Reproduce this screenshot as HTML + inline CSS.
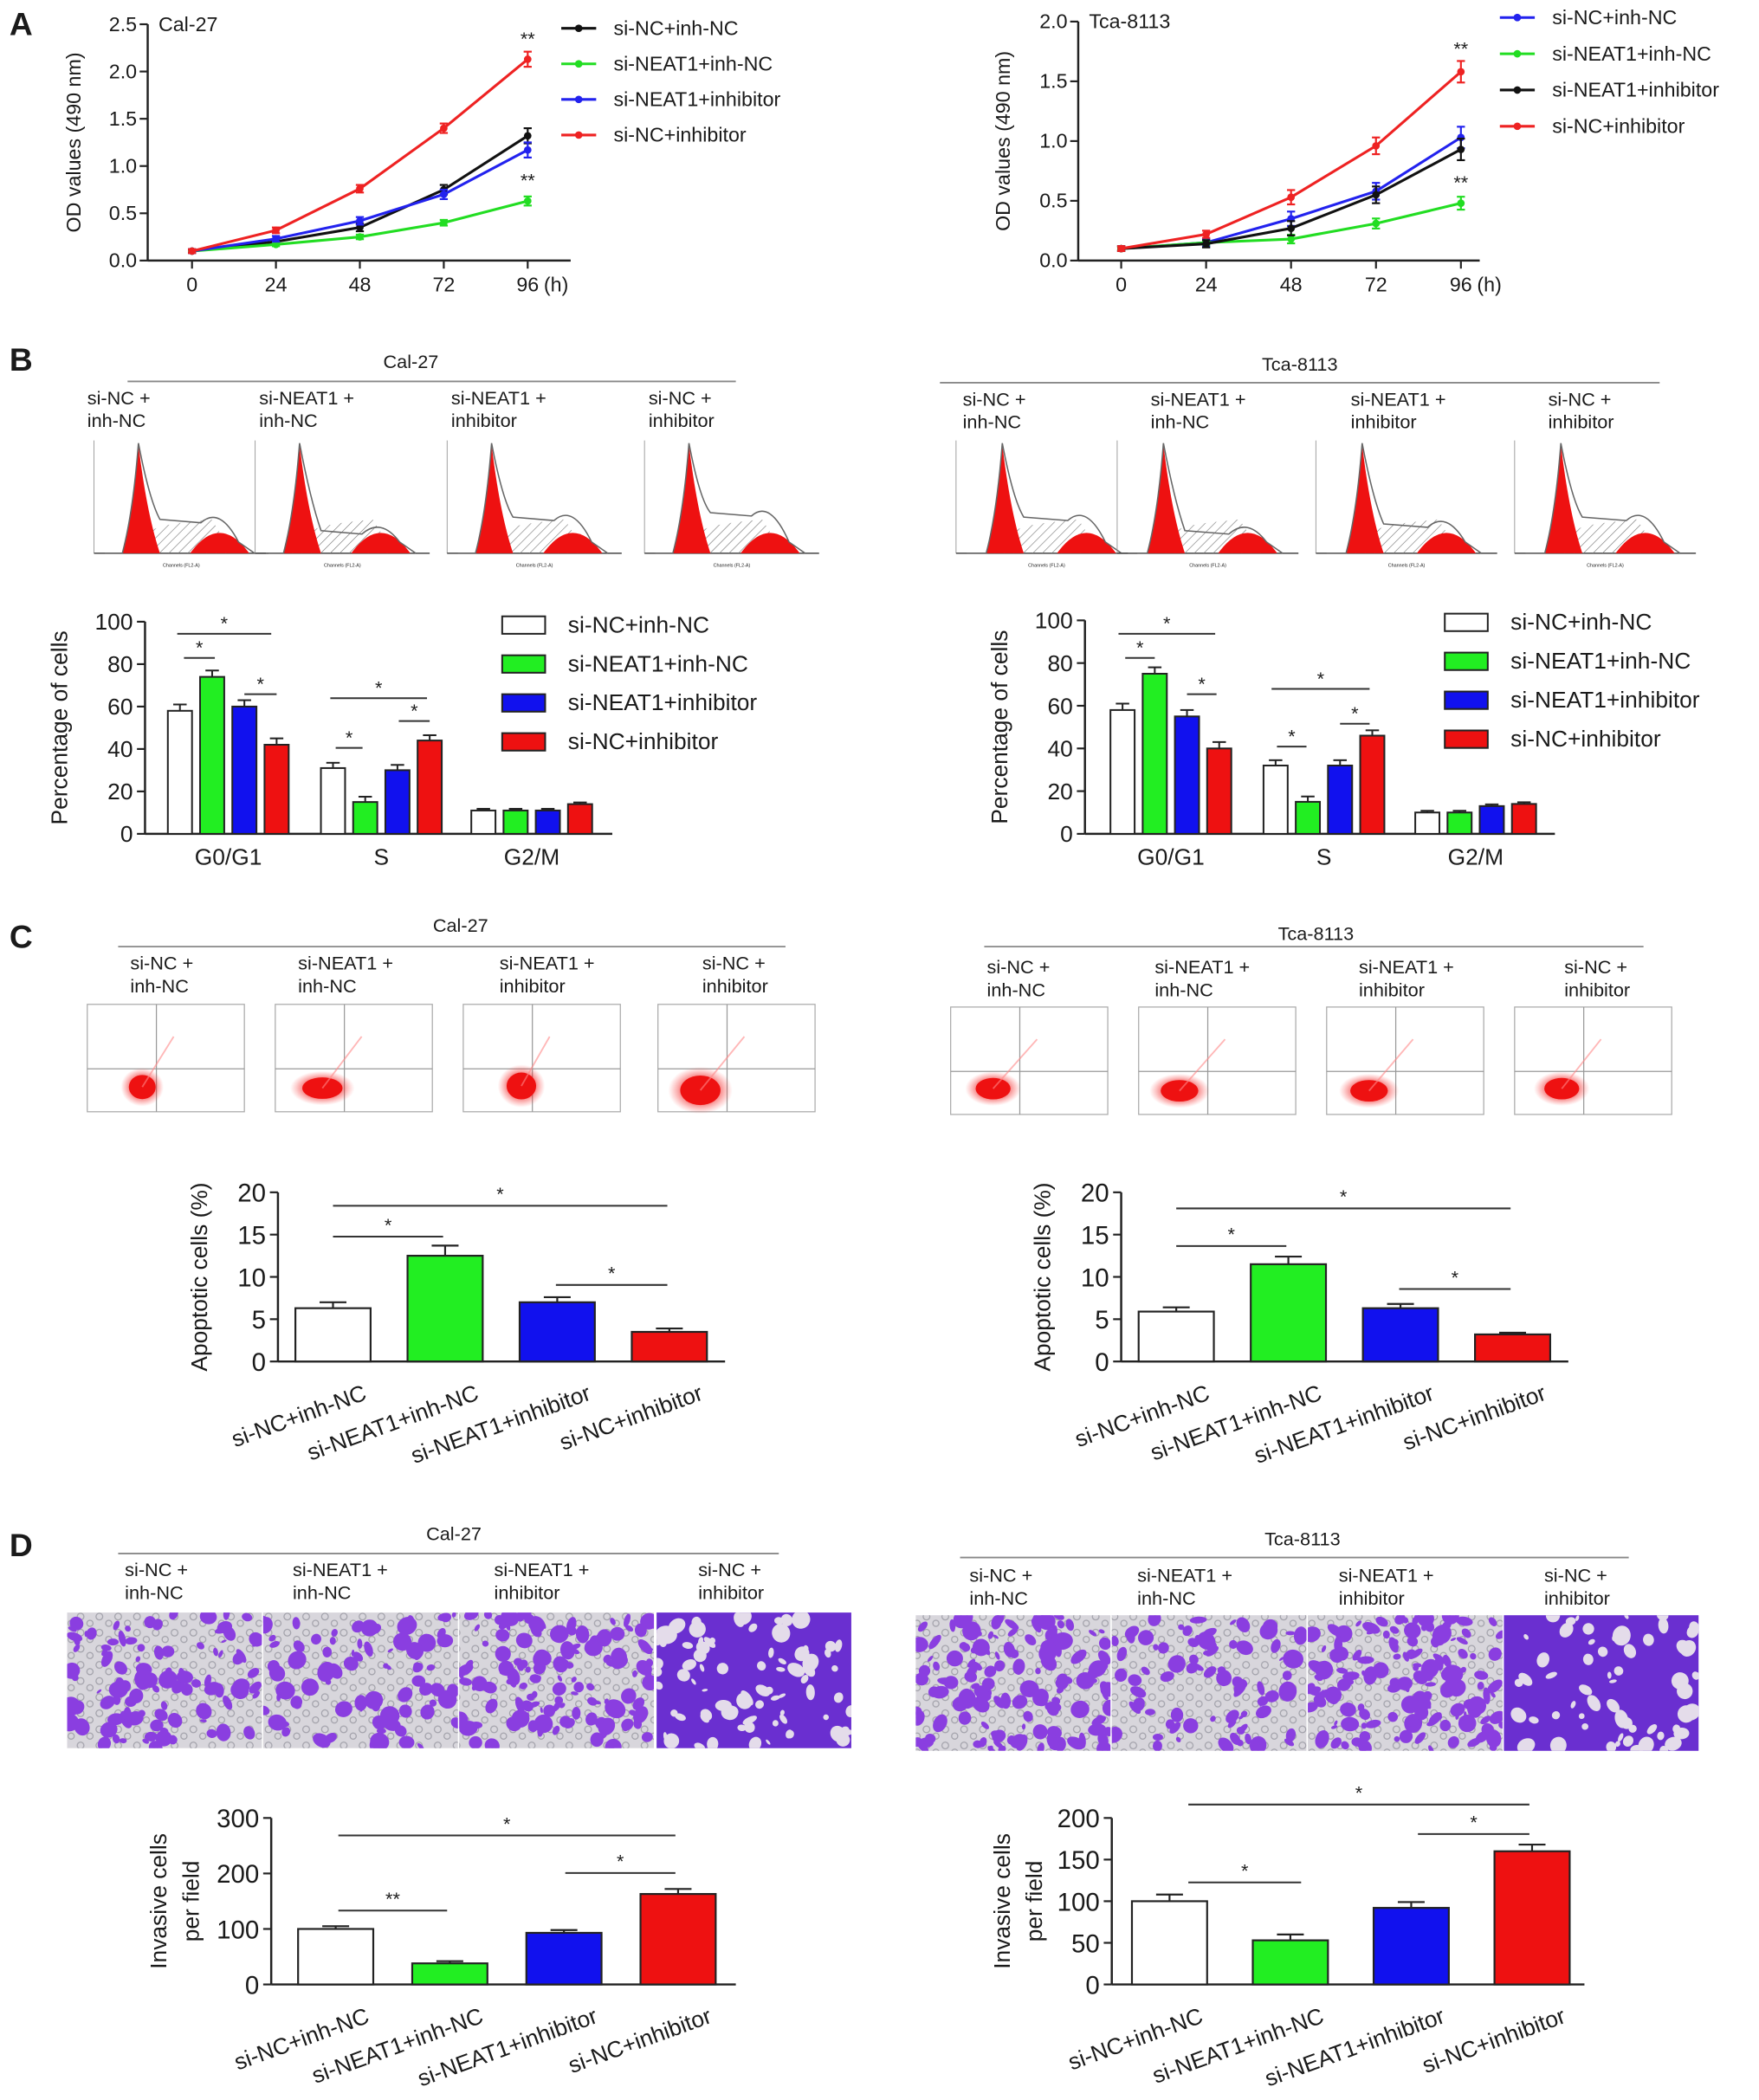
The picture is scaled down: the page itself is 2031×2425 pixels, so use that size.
<!DOCTYPE html>
<html><head><meta charset="utf-8"><style>
html,body{margin:0;padding:0;background:#fff}
svg{display:block}
text{font-family:"Liberation Sans",sans-serif;fill:#1a1a1a}
</style></head><body>
<svg id="fig" xmlns="http://www.w3.org/2000/svg" width="2031" height="2425" viewBox="0 0 1310 1564">
<defs>
<pattern id="hatch" width="5" height="5" patternUnits="userSpaceOnUse" patternTransform="rotate(45)"><line x1="0" y1="0" x2="0" y2="5" stroke="#777" stroke-width="0.8"/></pattern>
<radialGradient id="blob"><stop offset="0" stop-color="#e00000"/><stop offset="0.6" stop-color="#ee1010"/><stop offset="1" stop-color="#ff4040" stop-opacity="0"/></radialGradient>
<pattern id="cells" width="14" height="12" patternUnits="userSpaceOnUse"><circle cx="4" cy="4" r="2.5" fill="none" stroke="#8a8a94" stroke-width="0.8"/><circle cx="11" cy="9" r="2.3" fill="none" stroke="#8a8a94" stroke-width="0.8"/></pattern>
</defs>
</svg>
<script>
// ===== Panel A data =====
const hours = [0, 24, 48, 72, 96];
const aLeftNames = ['si-NC+inh-NC', 'si-NEAT1+inh-NC', 'si-NEAT1+inhibitor', 'si-NC+inhibitor'];
const aLeftBlack = [0.10, 0.20, 0.35, 0.75, 1.32];
const aLeftGreen = [0.10, 0.17, 0.25, 0.40, 0.63];
const aLeftBlue = [0.10, 0.23, 0.42, 0.70, 1.17];
const aLeftRed = [0.10, 0.32, 0.76, 1.40, 2.13];
const aLeftErr = [0.02, 0.03, 0.04, 0.05, 0.08];
const aRightNames = ['si-NC+inh-NC', 'si-NEAT1+inh-NC', 'si-NEAT1+inhibitor', 'si-NC+inhibitor'];
const aRightBlue = [0.10, 0.15, 0.35, 0.58, 1.03];
const aRightGreen = [0.10, 0.15, 0.18, 0.31, 0.48];
const aRightBlack = [0.10, 0.14, 0.27, 0.55, 0.93];
const aRightRed = [0.10, 0.22, 0.53, 0.96, 1.58];
const aRightErr = [0.02, 0.03, 0.06, 0.07, 0.09];
const aYTicksLeft = ['0.0', '0.5', '1.0', '1.5', '2.0', '2.5'];
const aYTicksRight = ['0.0', '0.5', '1.0', '1.5', '2.0'];
// ===== Panel B data =====
const phases = ['G0/G1', 'S', 'G2/M'];
const bLeftWhite = [58, 31, 11];
const bLeftGreen = [74, 15, 11];
const bLeftBlue = [60, 30, 11];
const bLeftRed = [42, 44, 14];
const bRightWhite = [58, 32, 10];
const bRightGreen = [75, 15, 10];
const bRightBlue = [55, 32, 13];
const bRightRed = [40, 46, 14];
const bErr = [3, 2.5, 0.8];
const bYTicks = [0, 20, 40, 60, 80, 100];
// ===== Panel C data =====
const groups = ['si-NC+inh-NC', 'si-NEAT1+inh-NC', 'si-NEAT1+inhibitor', 'si-NC+inhibitor'];
const cLeftVals = [6.3, 12.5, 7.0, 3.5];
const cLeftErr = [0.7, 1.2, 0.6, 0.4];
const cRightVals = [5.9, 11.5, 6.3, 3.2];
const cRightErr = [0.5, 0.9, 0.5, 0.2];
const cYTicks = [0, 5, 10, 15, 20];
// ===== Panel D data =====
const dLeftVals = [100, 38, 93, 163];
const dLeftErr = [5, 4, 5, 9];
const dRightVals = [100, 53, 92, 160];
const dRightErr = [8, 7, 7, 8];
const dYTicksLeft = [0, 100, 200, 300];
const dYTicksRight = [0, 50, 100, 150, 200];

const svg = document.getElementById('fig');
const NS = 'http://www.w3.org/2000/svg';
function mk(tag, attrs, parent) {
  const e = document.createElementNS(NS, tag);
  for (const k in attrs) e.setAttribute(k, attrs[k]);
  (parent || svg).appendChild(e);
  return e;
}
function txt(x, y, s, size, anchor, parent, extra) {
  const t = mk('text', Object.assign({x: x, y: y, 'font-size': size, 'text-anchor': anchor || 'start'}, extra || {}), parent);
  t.textContent = s;
  return t;
}
function grp(name) {
  const g = mk('g', {});
  
  
  return g;
}

['A', 'B', 'C', 'D'].forEach((L, i) => {
  const t = txt(7, [26, 276, 706, 1159][i], L, 24, 'start', null, {'font-weight': 'bold'});
  
  
});

function lineChart(name, cfg) {
  const g = grp(name);
  const yS = v => cfg.y0 - v / cfg.yMax * (cfg.y0 - cfg.yTop);
  const xS = h => cfg.x0 + h / 96 * (cfg.x96 - cfg.x0);
  mk('line', {x1: cfg.ax, y1: cfg.yTop, x2: cfg.ax, y2: cfg.y0, stroke: '#222', 'stroke-width': 1.6}, g);
  mk('line', {x1: cfg.ax, y1: cfg.y0, x2: cfg.xEnd, y2: cfg.y0, stroke: '#222', 'stroke-width': 1.6}, g);
  cfg.yTicks.forEach(t => {
    const y = yS(parseFloat(t));
    mk('line', {x1: cfg.ax - 6, y1: y, x2: cfg.ax, y2: y, stroke: '#222', 'stroke-width': 1.4}, g);
    txt(cfg.ax - 8, y + 5, t, 15, 'end', g);
  });
  hours.forEach(h => {
    const x = xS(h);
    mk('line', {x1: x, y1: cfg.y0, x2: x, y2: cfg.y0 + 6, stroke: '#222', 'stroke-width': 1.4}, g);
    txt(x, cfg.y0 + 23, String(h), 15, 'middle', g);
  });
  txt(xS(96) + 12, cfg.y0 + 23, '(h)', 15, 'start', g);
  const yt = txt(0, 0, 'OD values (490 nm)', 15, 'middle', g, {transform: 'translate(' + cfg.titleX + ',' + ((cfg.yTop + cfg.y0) / 2) + ') rotate(-90)'});
  
  txt(cfg.ax + 8, cfg.yTop + 5, cfg.cell, 15, 'start', g);
  cfg.series.forEach((s, si) => {
    const sg = mk('g', {}, g);
    
    
    const pts = s.vals.map((v, i) => xS(hours[i]) + ',' + yS(v)).join(' ');
    mk('polyline', {points: pts, fill: 'none', stroke: s.color, 'stroke-width': 2}, sg);
    s.vals.forEach((v, i) => {
      const x = xS(hours[i]), e = cfg.err[i] * (s.eScale || 1);
      mk('line', {x1: x, y1: yS(v - e), x2: x, y2: yS(v + e), stroke: s.color, 'stroke-width': 1.4}, sg);
      mk('line', {x1: x - 3, y1: yS(v + e), x2: x + 3, y2: yS(v + e), stroke: s.color, 'stroke-width': 1.4}, sg);
      mk('line', {x1: x - 3, y1: yS(v - e), x2: x + 3, y2: yS(v - e), stroke: s.color, 'stroke-width': 1.4}, sg);
      mk('circle', {cx: x, cy: yS(v), r: 2.8, fill: s.color}, sg);
    });
    const ly = cfg.legY + si * cfg.legGap;
    const lg = mk('g', {}, g);
    
    
    mk('line', {x1: cfg.legX, y1: ly, x2: cfg.legX + 26, y2: ly, stroke: s.color, 'stroke-width': 2}, lg);
    mk('circle', {cx: cfg.legX + 13, cy: ly, r: 2.8, fill: s.color}, lg);
    txt(cfg.legX + 39, ly + 5, s.label, 15, 'start', lg);
  });
  cfg.stars.forEach(st => {
    txt(xS(96), yS(st) , '**', 14, 'middle', g);
  });
}
lineChart('line-chart-cal27', {ax: 110, x0: 143, x96: 393, xEnd: 425, yTop: 18, y0: 194, yMax: 2.5, yTicks: aYTicksLeft,
  titleX: 60, cell: 'Cal-27', legX: 418, legY: 21, legGap: 26.5, err: aLeftErr, stars: [2.28, 0.78],
  series: [
    {key: 'black', label: aLeftNames[0], vals: aLeftBlack, color: '#111'},
    {key: 'green', label: aLeftNames[1], vals: aLeftGreen, color: '#22dd22', eScale: 0.6},
    {key: 'blue', label: aLeftNames[2], vals: aLeftBlue, color: '#2222ee'},
    {key: 'red', label: aLeftNames[3], vals: aLeftRed, color: '#ee2222'}]});
lineChart('line-chart-tca8113', {ax: 803, x0: 835, x96: 1088, xEnd: 1102, yTop: 16, y0: 194, yMax: 2.0, yTicks: aYTicksRight,
  titleX: 752, cell: 'Tca-8113', legX: 1117, legY: 13, legGap: 27, err: aRightErr, stars: [1.72, 0.60],
  series: [
    {key: 'blue', label: aRightNames[0], vals: aRightBlue, color: '#2222ee'},
    {key: 'green', label: aRightNames[1], vals: aRightGreen, color: '#22dd22', eScale: 0.6},
    {key: 'black', label: aRightNames[2], vals: aRightBlack, color: '#111'},
    {key: 'red', label: aRightNames[3], vals: aRightRed, color: '#ee2222'}]});

function header(name, cx, ty, l1, l2, lx, ly, labelXs, labY) {
  const g = grp(name);
  txt(cx, ty, name.indexOf('cal') >= 0 ? 'Cal-27' : 'Tca-8113', 14, 'middle', g);
  mk('line', {x1: l1, y1: ly, x2: l2, y2: ly, stroke: '#888', 'stroke-width': 1.2}, g);
  const tops = ['si-NC +', 'si-NEAT1 +', 'si-NEAT1 +', 'si-NC +'];
  const bots = ['inh-NC', 'inh-NC', 'inhibitor', 'inhibitor'];
  labelXs.forEach((x, i) => {
    txt(x, labY, tops[i], 14, 'start', g);
    txt(x, labY + 17, bots[i], 14, 'start', g);
  });
}
header('header-b-cal27', 306, 274, 95, 548, 0, 284, [65, 193, 336, 483], 301);
header('header-b-tca8113', 968, 276, 700, 1236, 0, 285, [717, 857, 1006, 1153], 302);
header('header-c-cal27', 343, 694, 88, 585, 0, 705, [97, 222, 372, 523], 722);
header('header-c-tca8113', 980, 700, 733, 1224, 0, 705, [735, 860, 1012, 1165], 725);
header('header-d-cal27', 338, 1147, 88, 580, 0, 1157, [93, 218, 368, 520], 1174);
header('header-d-tca8113', 970, 1151, 715, 1213, 0, 1160, [722, 847, 997, 1150], 1178);

function histo(x, y, w, h, s) {
  const g = grp('cell-cycle-histogram');
  const b = y + h;
  mk('line', {x1: x, y1: y, x2: x, y2: b, stroke: '#999', 'stroke-width': 0.6}, g);
  mk('line', {x1: x, y1: b, x2: x + w, y2: b, stroke: '#444', 'stroke-width': 1}, g);
  const p1 = x + w * 0.27, p2 = x + w * 0.72;
  mk('path', {d: `M${p1 - 10},${b} C${p1 + 4},${b - h * 0.25} ${p1 + 14},${b - h * 0.25} ${p2 - 6},${b - h * 0.3} L${p2 + 10},${b} Z`, fill: 'url(#hatch)'}, g);
  mk('path', {d: `M${p1 - 14},${b} Q${p1 - 6},${b - 30} ${p1 - 2},${y + 3} Q${p1 + 4},${b - 30} ${p1 + 14},${b} Z`, fill: '#ee1111'}, g);
  mk('path', {d: `M${p2 - 22},${b} Q${p2},${b - h * 0.36} ${p2 + 22},${b} Z`, fill: '#ee1111'}, g);
  mk('path', {d: `M${x + 8},${b} L${p1 - 14},${b} Q${p1 - 6},${b - 30} ${p1 - 2},${y + 2} Q${p1 + 6},${b - 40} ${p1 + 14},${b - h * s} L${p2 - 14},${b - h * (s - 0.03)} Q${p2},${b - h * (s + 0.12)} ${p2 + 14},${b - h * 0.1} L${p2 + 26},${b}`, fill: 'none', stroke: '#666', 'stroke-width': 1}, g);
  txt(x + w / 2, b + 10, 'Channels (FL2-A)', 3.5, 'middle', g, {fill: '#888'});
}
[[70, 130, 0.3], [190, 130, 0.2], [333, 130, 0.32], [480, 130, 0.36], [712, 135, 0.32], [832, 135, 0.2], [980, 135, 0.26], [1128, 135, 0.32]]
  .forEach(a => histo(a[0], 328, a[1], 84, a[2]));

function scatter(x, y, w, h, bx, by, rx, ry) {
  const g = grp('apoptosis-dot-plot');
  mk('rect', {x: x, y: y, width: w, height: h, fill: '#fff', stroke: '#aaa', 'stroke-width': 0.8}, g);
  mk('line', {x1: x + w * 0.44, y1: y, x2: x + w * 0.44, y2: y + h, stroke: '#999', 'stroke-width': 0.8}, g);
  mk('line', {x1: x, y1: y + h * 0.6, x2: x + w, y2: y + h * 0.6, stroke: '#999', 'stroke-width': 0.8}, g);
  mk('ellipse', {cx: x + w * bx, cy: y + h * by, rx: rx * 1.6, ry: ry * 1.6, fill: 'url(#blob)', opacity: 0.5}, g);
  mk('ellipse', {cx: x + w * bx, cy: y + h * by, rx: rx, ry: ry, fill: '#ee1111'}, g);
  mk('line', {x1: x + w * bx, y1: y + h * by, x2: x + w * 0.55, y2: y + h * 0.3, stroke: '#f88', 'stroke-width': 1.2, opacity: 0.6}, g);
}
[[65, 0.35, 0.77, 10, 9], [205, 0.3, 0.78, 15, 8], [345, 0.37, 0.76, 11, 10], [490, 0.27, 0.8, 15, 11],
 [708, 0.27, 0.76, 13, 8], [848, 0.26, 0.78, 14, 8], [988, 0.27, 0.78, 14, 8], [1128, 0.3, 0.76, 13, 8]]
  .forEach(a => scatter(a[0], a[0] < 700 ? 748 : 750, 117, 80, a[1], a[2], a[3], a[4]));

function invasion(x, y, w, h, dens, dark) {
  const g = grp('transwell-image');
  mk('rect', {x: x, y: y, width: w, height: h, fill: dark ? '#6a2fd0' : '#d8d6dc'}, g);
  if (!dark) mk('rect', {x: x, y: y, width: w, height: h, fill: 'url(#cells)', opacity: 0.7}, g);
  const cp = mk('clipPath', {id: 'cp' + x}, g);
  mk('rect', {x: x, y: y, width: w, height: h}, cp);
  const inner = mk('g', {'clip-path': 'url(#cp' + x + ')'}, g);
  let seed = Math.round(x * 7 + y);
  const rnd = () => { seed = (seed * 9301 + 49297) % 233280; return seed / 233280; };
  for (let i = 0; i < dens; i++) {
    const cx = x + rnd() * w, cy = y + rnd() * h, r = 2 + rnd() * 5;
    mk('ellipse', {cx: cx, cy: cy, rx: r, ry: r * (0.4 + rnd() * 0.8), fill: dark ? '#e4dcea' : '#8a3ee0', transform: `rotate(${rnd() * 180} ${cx} ${cy})`}, inner);
  }
}
[[50, 110, 0], [196, 80, 0], [342, 130, 0], [489, 80, 1], [682, 130, 0], [828, 80, 0], [974, 150, 0], [1120, 60, 1]]
  .forEach(a => invasion(a[0], a[0] < 680 ? 1201 : 1203, 145, 101, a[1], a[2]));

function groupedBar(name, cfg) {
  const g = grp(name);
  const yS = v => cfg.y0 - v * cfg.k;
  mk('line', {x1: cfg.ax, y1: yS(100), x2: cfg.ax, y2: cfg.y0, stroke: '#222', 'stroke-width': 1.6}, g);
  mk('line', {x1: cfg.ax, y1: cfg.y0, x2: cfg.xEnd, y2: cfg.y0, stroke: '#222', 'stroke-width': 1.6}, g);
  bYTicks.forEach(t => {
    mk('line', {x1: cfg.ax - 6, y1: yS(t), x2: cfg.ax, y2: yS(t), stroke: '#222', 'stroke-width': 1.4}, g);
    txt(cfg.ax - 9, yS(t) + 6, String(t), 17, 'end', g);
  });
  txt(0, 0, 'Percentage of cells', 17, 'middle', g, {transform: `translate(${cfg.ax - 58},${yS(50)}) rotate(-90)`});
  const colors = ['#ffffff', '#22ee22', '#1111ee', '#ee1111'];
  const sets = cfg.series;
  phases.forEach((p, pi) => {
    const gx = cfg.gx[pi];
    sets.forEach((vals, si) => {
      const x = gx + si * 24, v = vals[pi], e = bErr[pi];
      const r = mk('rect', {x: x, y: yS(v), width: 18, height: v * cfg.k, fill: colors[si], stroke: '#222', 'stroke-width': 1.3}, g);
      
      
      mk('line', {x1: x + 9, y1: yS(v), x2: x + 9, y2: yS(v + e), stroke: '#222', 'stroke-width': 1.3}, g);
      mk('line', {x1: x + 4, y1: yS(v + e), x2: x + 14, y2: yS(v + e), stroke: '#222', 'stroke-width': 1.3}, g);
    });
    txt(gx + 45, cfg.y0 + 23, p, 17, 'middle', g);
  });
  cfg.sig.forEach(s => {
    mk('line', {x1: s[0], y1: s[2], x2: s[1], y2: s[2], stroke: '#333', 'stroke-width': 1.3}, g);
    txt((s[0] + s[1]) / 2, s[2] - 3, '*', 14, 'middle', g);
  });
  groups.forEach((n, i) => {
    const lg = mk('g', {}, g);
    
    
    const ly = cfg.legY + i * 29;
    mk('rect', {x: cfg.legX, y: ly - 12, width: 32, height: 13, fill: colors[i], stroke: '#222', 'stroke-width': 1.3}, lg);
    txt(cfg.legX + 49, ly, n, 17, 'start', lg);
  });
}
groupedBar('bar-chart-cell-cycle-cal27', {ax: 108, y0: 621, k: 1.58, xEnd: 456, gx: [125, 239, 351],
  series: [bLeftWhite, bLeftGreen, bLeftBlue, bLeftRed], legX: 374, legY: 471,
  sig: [[132, 202, 472], [137, 160, 490], [182, 206, 517], [246, 318, 520], [250, 270, 557], [297, 320, 537]]});
groupedBar('bar-chart-cell-cycle-tca8113', {ax: 808, y0: 621, k: 1.59, xEnd: 1158, gx: [827, 941, 1054],
  series: [bRightWhite, bRightGreen, bRightBlue, bRightRed], legX: 1076, legY: 469,
  sig: [[833, 905, 472], [838, 860, 490], [884, 906, 517], [947, 1020, 513], [951, 973, 556], [998, 1020, 539]]});

function simpleBar(name, cfg) {
  const g = grp(name);
  const max = cfg.ticks[cfg.ticks.length - 1];
  const k = (cfg.y0 - cfg.yTop) / max;
  const yS = v => cfg.y0 - v * k;
  mk('line', {x1: cfg.ax, y1: cfg.yTop, x2: cfg.ax, y2: cfg.y0, stroke: '#222', 'stroke-width': 1.6}, g);
  mk('line', {x1: cfg.ax, y1: cfg.y0, x2: cfg.xEnd, y2: cfg.y0, stroke: '#222', 'stroke-width': 1.6}, g);
  cfg.ticks.forEach(t => {
    mk('line', {x1: cfg.ax - 6, y1: yS(t), x2: cfg.ax, y2: yS(t), stroke: '#222', 'stroke-width': 1.4}, g);
    txt(cfg.ax - 9, yS(t) + 7, String(t), 19, 'end', g);
  });
  cfg.title.forEach((tl, i) => {
    txt(0, 0, tl, 17, 'middle', g, {transform: `translate(${cfg.titleX + i * 24},${(cfg.yTop + cfg.y0) / 2}) rotate(-90)`});
  });
  const colors = ['#ffffff', '#22ee22', '#1111ee', '#ee1111'];
  cfg.vals.forEach((v, i) => {
    const x = cfg.bx + i * cfg.step, e = cfg.err[i];
    const r = mk('rect', {x: x, y: yS(v), width: 56, height: v * k, fill: colors[i], stroke: '#222', 'stroke-width': 1.4}, g);
    
    
    mk('line', {x1: x + 28, y1: yS(v), x2: x + 28, y2: yS(v + e), stroke: '#222', 'stroke-width': 1.4}, g);
    mk('line', {x1: x + 18, y1: yS(v + e), x2: x + 38, y2: yS(v + e), stroke: '#222', 'stroke-width': 1.4}, g);
    const cx = x + 28;
    txt(0, 0, groups[i], 17, 'end', g, {transform: `translate(${cx + 26},${cfg.y0 + 28}) rotate(-20)`});
  });
  cfg.sig.forEach(s => {
    mk('line', {x1: s[0], y1: s[2], x2: s[1], y2: s[2], stroke: '#333', 'stroke-width': 1.3}, g);
    txt((s[0] + s[1]) / 2, s[2] - 4, s[3] || '*', 14, 'middle', g);
  });
}
simpleBar('bar-chart-apoptosis-cal27', {ax: 207, yTop: 888, y0: 1014, xEnd: 540, ticks: cYTicks, vals: cLeftVals, err: cLeftErr,
  bx: 220, step: 83.5, title: ['Apoptotic cells (%)'], titleX: 154,
  sig: [[248, 330, 921], [248, 497, 898], [414, 497, 957]]});
simpleBar('bar-chart-apoptosis-tca8113', {ax: 835, yTop: 888, y0: 1014, xEnd: 1168, ticks: cYTicks, vals: cRightVals, err: cRightErr,
  bx: 848, step: 83.5, title: ['Apoptotic cells (%)'], titleX: 782,
  sig: [[876, 958, 928], [876, 1125, 900], [1042, 1125, 960]]});
simpleBar('bar-chart-invasion-cal27', {ax: 202, yTop: 1354, y0: 1478, xEnd: 548, ticks: dYTicksLeft, vals: dLeftVals, err: dLeftErr,
  bx: 222, step: 85, title: ['Invasive cells', 'per field'], titleX: 124,
  sig: [[252, 333, 1423, '**'], [252, 503, 1367], [421, 503, 1395]]});
simpleBar('bar-chart-invasion-tca8113', {ax: 828, yTop: 1354, y0: 1478, xEnd: 1180, ticks: dYTicksRight, vals: dRightVals, err: dRightErr,
  bx: 843, step: 90, title: ['Invasive cells', 'per field'], titleX: 752,
  sig: [[885, 969, 1402], [885, 1139, 1344], [1056, 1139, 1366]]});
</script>
</body></html>
